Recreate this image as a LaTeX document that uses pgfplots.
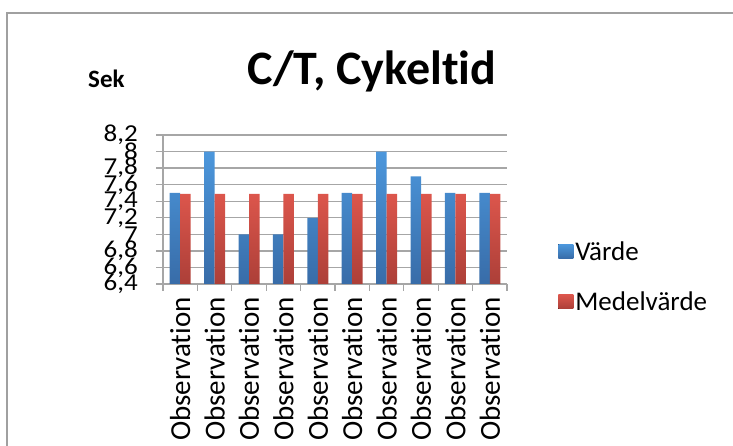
\documentclass[border=0pt]{standalone}
\usepackage{fontspec}
\setmainfont{Carlito}[Ligatures=NoCommon]
\usepackage{pgfplots}
\pgfplotsset{compat=1.18}
\definecolor{bluetop}{HTML}{4C97DC}
\definecolor{bluebot}{HTML}{386CA8}
\definecolor{redtop}{HTML}{DC564C}
\definecolor{redbot}{HTML}{AC3F38}
\definecolor{gridgray}{HTML}{A6A6A6}
\definecolor{framegray}{HTML}{A0A0A0}
\begin{document}
\begin{tikzpicture}[x=1pt,y=1pt]
\useasboundingbox (0,0) rectangle (733,446);
\draw[framegray, line width=1.5pt] (7,-2) -- (7,433) -- (735,433);
\node[anchor=base, inner sep=0pt, font=\bfseries\fontsize{48}{48}\selectfont] at (372,361) {C/T, Cykeltid};
\node[anchor=base west, inner sep=0pt, font=\bfseries\fontsize{25}{25}\selectfont] at (88,358) {Sek};
\begin{axis}[
  at={(163pt,162pt)}, anchor=south west,
  scale only axis, width=344pt, height=149pt,
  xmin=0.5, xmax=10.5, ymin=6.4, ymax=8.2,
  axis x line=bottom, axis y line=left,
  axis line style={gridgray, line width=1.3pt, -},
  ytick={6.4,6.6,...,8.2},
  ymajorgrids, grid style={gridgray, line width=1.3pt},
  tick align=outside,
  major tick length=7pt,
  tick style={gridgray, line width=1.3pt},
  yticklabel={\scalebox{1}[0.9]{\pgfmathprintnumber[use comma, fixed, precision=1, assume math mode=true]{\tick}}},
  yticklabel style={font=\fontsize{27}{27}\selectfont, inner sep=0pt},
  yticklabel shift=18pt,
  xtick={0.5,1.5,...,10.5},
  xticklabels={},
  extra x ticks={1,2,...,10},
  extra x tick labels={Observation,Observation,Observation,Observation,Observation,Observation,Observation,Observation,Observation,Observation},
  extra x tick style={major tick length=0pt, xticklabel style={rotate=90, anchor=east, inner sep=0pt, font=\fontsize{29}{29}\selectfont}, xticklabel shift=13pt},
  ybar=0pt, bar width=10.5pt,
  legend style={draw=none, fill=none, at={(1.14,0.05)}, anchor=west, font=\fontsize{27}{27}\selectfont, row sep=26pt, legend cell align=left},
  legend image code/.code={\fill[#1] (0pt,-7pt) rectangle (15pt,7pt);},
]
\addplot[draw=none, top color=bluetop, bottom color=bluebot] coordinates {(1,7.5) (2,8.0) (3,7.0) (4,7.0) (5,7.2) (6,7.5) (7,8.0) (8,7.7) (9,7.5) (10,7.5)};
\addplot[draw=none, top color=redtop, bottom color=redbot] coordinates {(1,7.49) (2,7.49) (3,7.49) (4,7.49) (5,7.49) (6,7.49) (7,7.49) (8,7.49) (9,7.49) (10,7.49)};
\legend{Värde, Medelvärde}
\end{axis}
\end{tikzpicture}
\end{document}
